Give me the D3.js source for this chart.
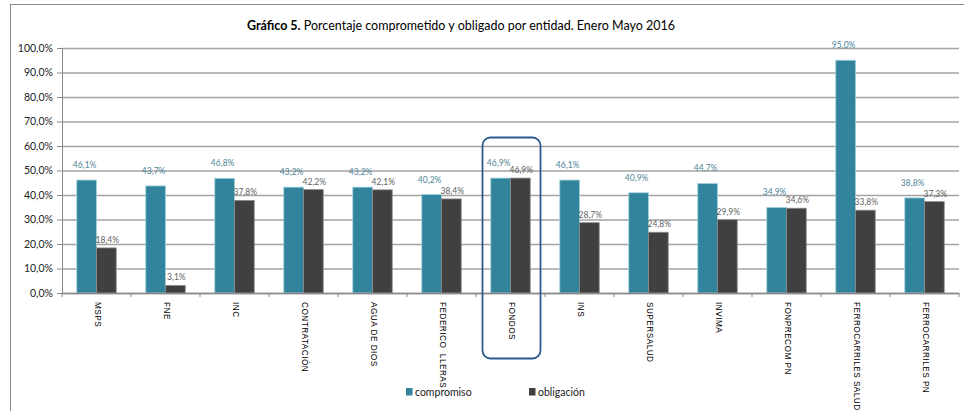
<!DOCTYPE html>
<html>
<head>
<meta charset="utf-8">
<script src="https://cdn.jsdelivr.net/npm/d3@7.9.0/dist/d3.min.js"></script>
<style>
  body { margin: 0; background: #fff; }
  svg { display: block; font-family: Lato, "Liberation Sans", Arial, sans-serif; }
</style>
</head>
<body>
<div id="chart"></div>
<script>
// chart values
const entidades = ['MSPS', 'FNE', 'INC', 'CONTRATACIÓN', 'AGUA DE DIOS', 'FEDERICO  LLERAS', 'FONDOS',
  'INS', 'SUPERSALUD', 'INVIMA', 'FONPRECOM PN', 'FERROCARRILES SALUD', 'FERROCARRILES PN'];
const compromiso = [46.1, 43.7, 46.8, 43.2, 43.2, 40.2, 46.9, 46.1, 40.9, 44.7, 34.9, 95.0, 38.8];
const obligacion = [18.4, 3.1, 37.8, 42.2, 42.1, 38.4, 46.9, 28.7, 24.8, 29.9, 34.6, 33.8, 37.3];
const series = ['compromiso', 'obligación'];
const yTicks = [0, 10, 20, 30, 40, 50, 60, 70, 80, 90, 100];
const destacado = 'FONDOS';

const width = 964, height = 411;
const margin = { top: 48, right: 5, bottom: 118, left: 62 };
const colors = { compromiso: '#31849b', obligación: '#404040' };
const labelColors = { compromiso: '#4f8597', obligación: '#5f5f5f' };

const svg = d3.select('#chart').append('svg')
  .attr('width', width).attr('height', height);

// outer frame
svg.append('rect')
  .attr('x', 10.5).attr('y', 4.5)
  .attr('width', width).attr('height', height)
  .attr('fill', 'none').attr('stroke', '#8c8c8c');

// title
const title = svg.append('text')
  .attr('x', 461).attr('y', 30)
  .attr('text-anchor', 'middle')
  .attr('font-size', 12.5).attr('fill', '#000');
title.append('tspan').attr('font-weight', 'bold').text('Gráfico 5.');
title.append('tspan').text(' Porcentaje comprometido y obligado por entidad. Enero Mayo 2016');

const x0 = d3.scaleBand()
  .domain(entidades)
  .range([margin.left, width - margin.right])
  .paddingInner(0).paddingOuter(0);

const x1 = d3.scaleBand()
  .domain(series)
  .range([0, x0.bandwidth()])
  .paddingOuter(0.75).paddingInner(0);

const y = d3.scaleLinear().domain([0, 100]).range([height - margin.bottom, margin.top]);

// gridlines
svg.append('g')
  .attr('class', 'grid')
  .attr('transform', `translate(${margin.left},0)`)
  .call(d3.axisLeft(y).tickValues(yTicks).tickFormat('').tickSize(-(width - margin.right - margin.left)))
  .call(g => g.select('.domain').remove())
  .call(g => g.selectAll('line').attr('stroke', '#a3a3a3').attr('stroke-width', 1.6));

// y axis
svg.append('g')
  .attr('transform', `translate(${margin.left},0)`)
  .call(d3.axisLeft(y).tickValues(yTicks).tickSize(5).tickPadding(4)
    .tickFormat(d => d.toFixed(1).replace('.', ',') + '%'))
  .call(g => g.select('.domain').attr('stroke', '#888'))
  .call(g => g.selectAll('line').attr('stroke', '#888'))
  .call(g => g.selectAll('text').attr('font-size', 10.5).attr('fill', '#222')
    .style('font-family', 'Lato, Arial, sans-serif'));

// bars
const rows = entidades.map((e, i) => ({ entidad: e, values: [
  { key: 'compromiso', value: compromiso[i] },
  { key: 'obligación', value: obligacion[i] }
] }));

const groups = svg.append('g').selectAll('g')
  .data(rows).join('g')
  .attr('transform', d => `translate(${x0(d.entidad)},0)`);

groups.selectAll('rect')
  .data(d => d.values).join('rect')
  .attr('x', d => x1(d.key))
  .attr('y', d => y(d.value))
  .attr('width', x1.bandwidth())
  .attr('height', d => y(0) - y(d.value))
  .attr('fill', d => colors[d.key])
  .attr('stroke', d => d.key === 'compromiso' ? '#9fd0dd' : '#8a8a8a')
  .attr('stroke-width', 0.8);

groups.selectAll('text')
  .data(d => d.values).join('text')
  .attr('x', d => x1(d.key) + x1.bandwidth() / 2 + (d.key === 'compromiso' ? -2 : 1))
  .attr('y', d => y(d.value) - (d.key === 'compromiso' ? 12 : 5))
  .attr('text-anchor', 'middle')
  .attr('font-size', 8.5)
  .attr('fill', d => labelColors[d.key])
  .text(d => d.value.toFixed(1).replace('.', ',') + '%');

// x axis
svg.append('g')
  .attr('transform', `translate(0,${y(0)})`)
  .call(d3.axisBottom(x0).tickValues([]).tickSize(0))
  .call(g => g.select('.domain').attr('stroke', '#888').attr('stroke-width', 1.5));

svg.append('g').selectAll('line')
  .data(entidades.concat(['__end']))
  .join('line')
  .attr('x1', (d, i) => i < entidades.length ? x0(d) : x0.range()[1])
  .attr('x2', (d, i) => i < entidades.length ? x0(d) : x0.range()[1])
  .attr('y1', y(0)).attr('y2', y(0) + 4)
  .attr('stroke', '#888');

svg.append('g').selectAll('text')
  .data(entidades).join('text')
  .attr('transform', d => `translate(${x0(d) + x0.bandwidth() / 2 - 1.5},${y(0) + 9}) rotate(90)`)
  .attr('font-size', 8.2)
  .attr('letter-spacing', 0.5)
  .attr('fill', '#000')
  .style('font-family', '"Liberation Sans", Arial, sans-serif')
  .style('white-space', 'pre')
  .text(d => d);

// highlight box
svg.append('rect')
  .attr('x', x0(destacado) + 6.5)
  .attr('y', 137.5)
  .attr('width', x0.bandwidth() - 11)
  .attr('height', 221)
  .attr('rx', 8).attr('ry', 8)
  .attr('fill', 'none')
  .attr('stroke', '#2f5a8e')
  .attr('stroke-width', 1.8);

// legend
const legendX = [406, 529];
const legend = svg.append('g').selectAll('g')
  .data(series).join('g')
  .attr('transform', (d, i) => `translate(${legendX[i]},388)`);
legend.append('rect')
  .attr('width', 6.5).attr('height', 7.5)
  .attr('fill', d => colors[d]);
legend.append('text')
  .attr('x', 9).attr('y', 7.5)
  .attr('font-size', 10.5).attr('fill', '#222')
  .text(d => d);
</script>
</body>
</html>
